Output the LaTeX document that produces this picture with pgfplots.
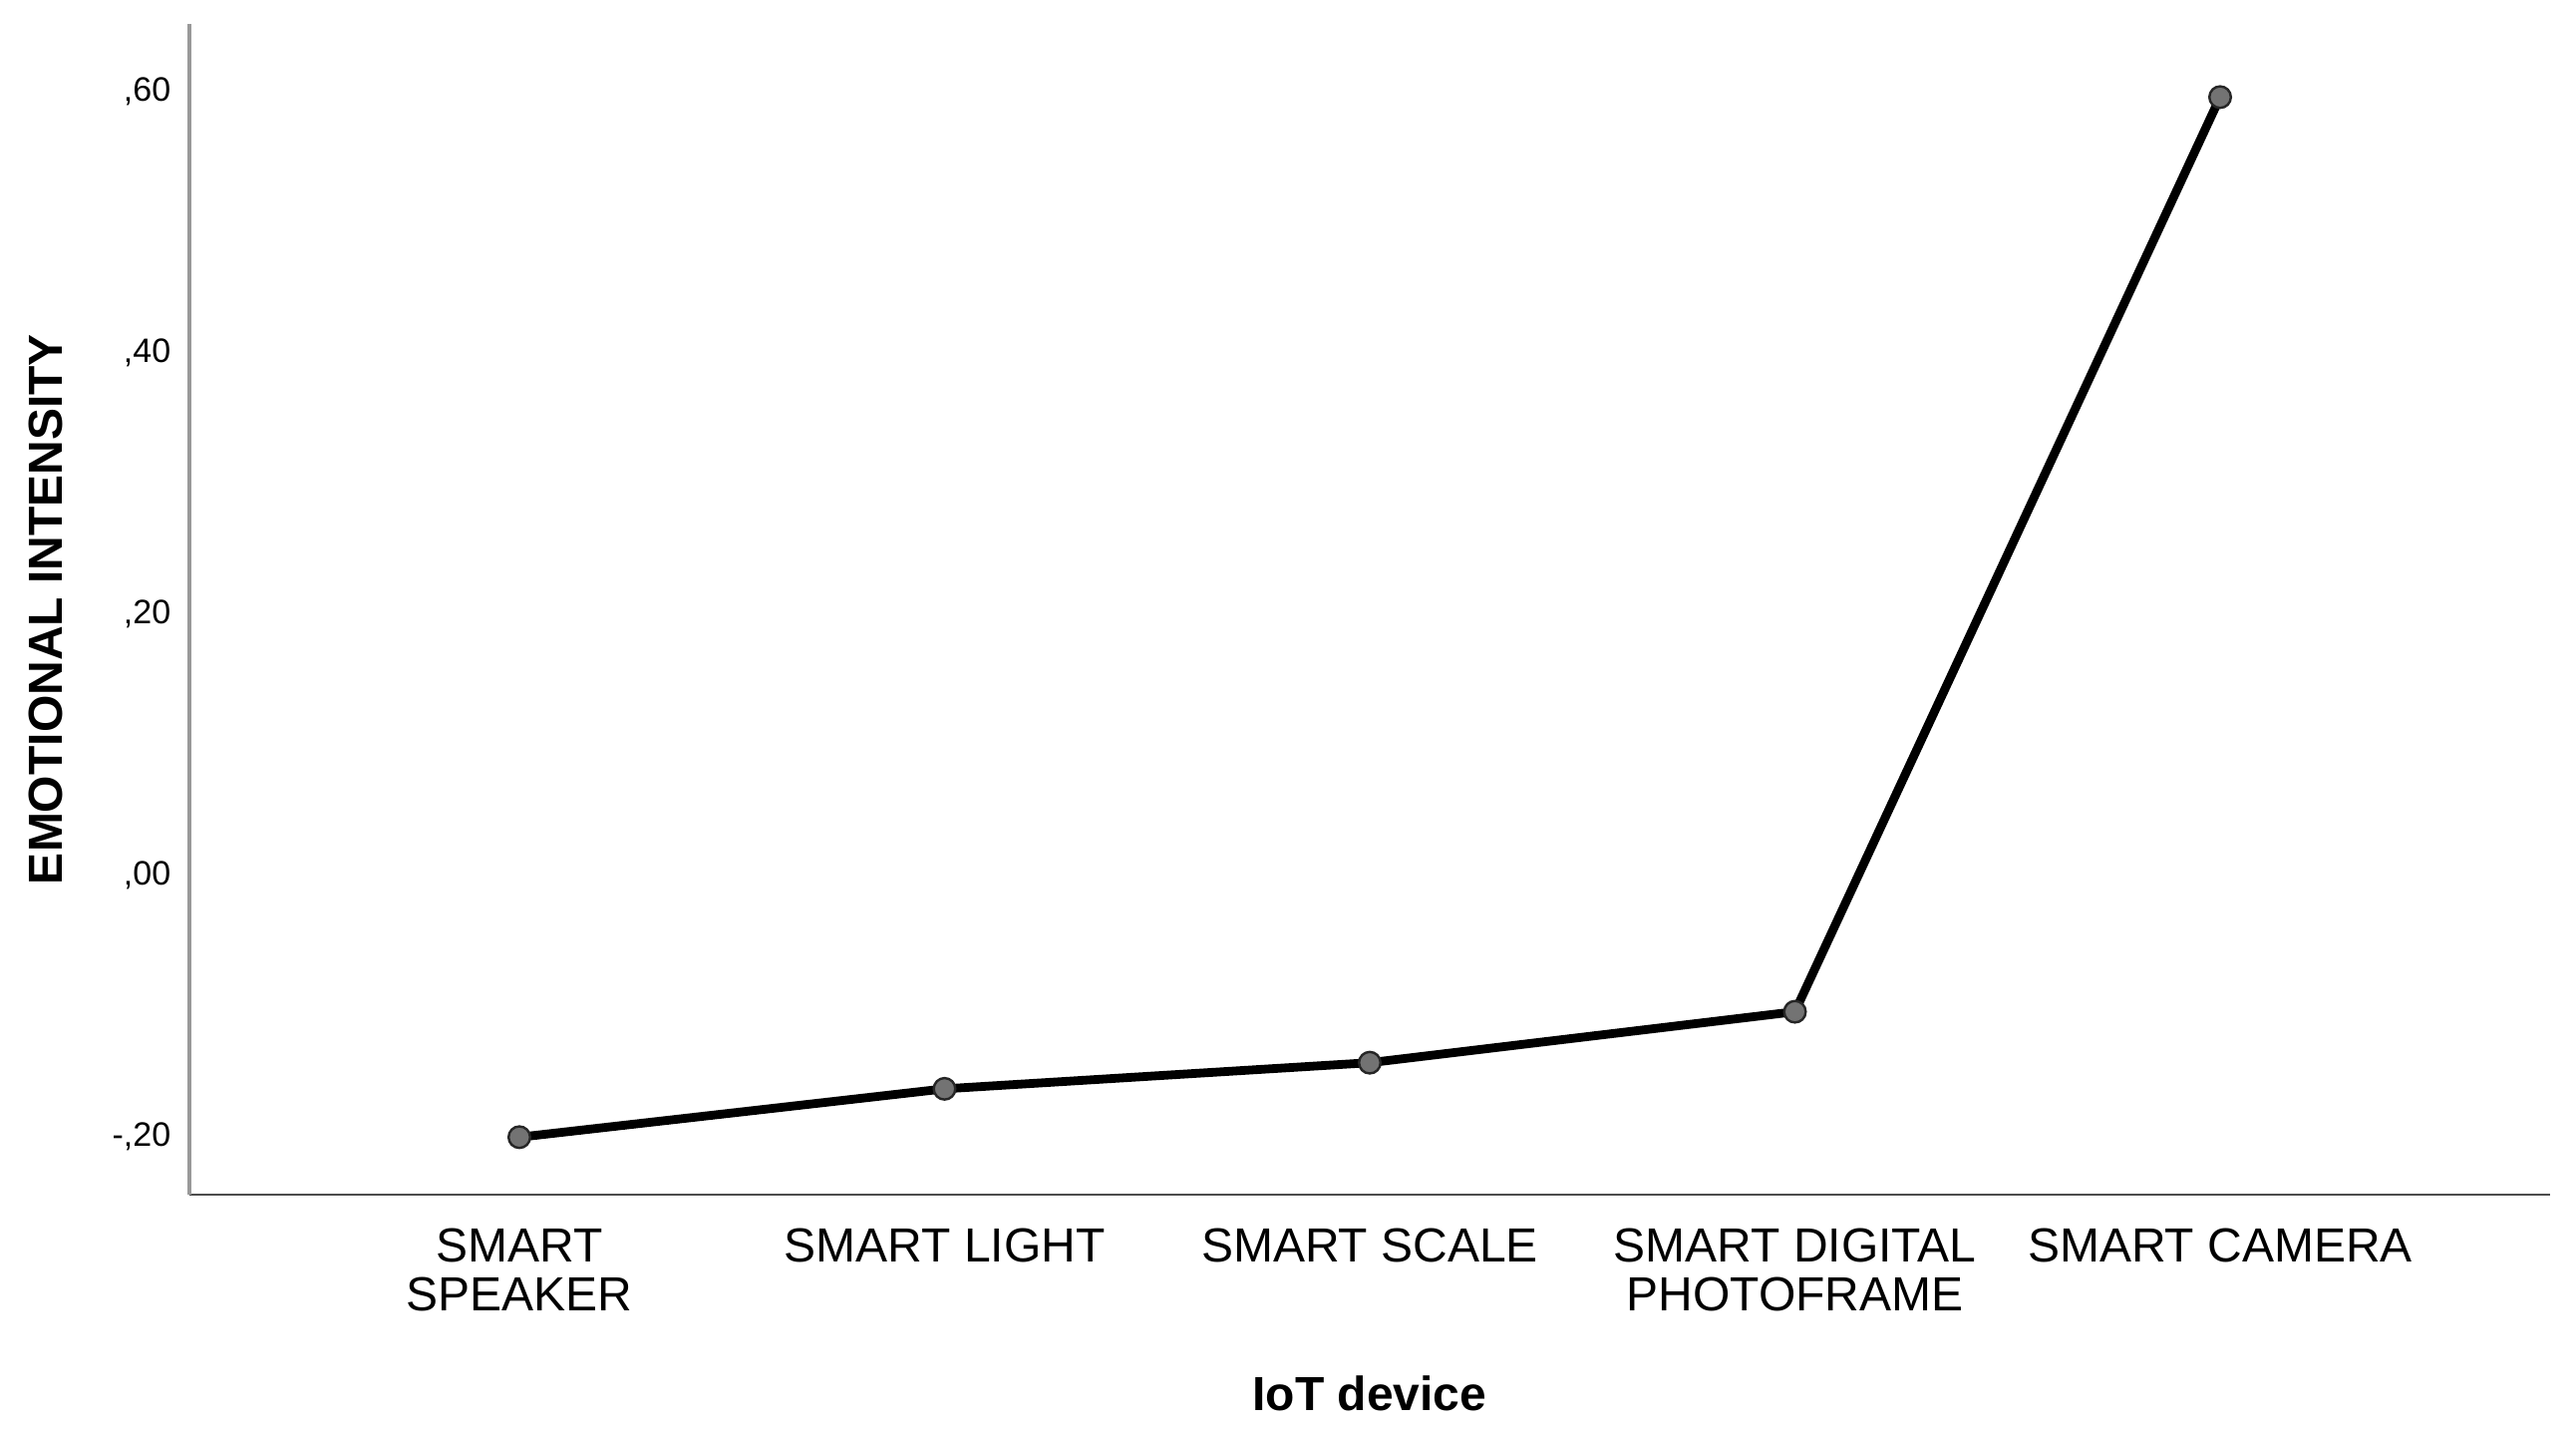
\documentclass[border=0pt]{standalone}
\usepackage{pgfplots}
\pgfplotsset{compat=1.18}
\usepackage{fontspec}
\setmainfont{Liberation Sans}
\begin{document}
\begin{tikzpicture}
\begin{axis}[
  scale only axis,
  width=592pt, height=293.5pt,
  xmin=-0.776, xmax=4.776,
  ymin=-0.247, ymax=0.649,
  axis x line*=bottom, axis y line*=left,
  x axis line style={black!70, line width=0.7pt, -},
  y axis line style={black!40, line width=0.8pt, -},
  xtick={0,1,2,3,4},
  xticklabels={{SMART\\SPEAKER},{SMART LIGHT},{SMART SCALE},{SMART DIGITAL\\PHOTOFRAME},{SMART CAMERA}},
  ytick={-0.2,0,0.2,0.4,0.6},
  yticklabels={{-,20},{,00},{,20},{,40},{,60}},
  major tick length=0pt,
  xticklabel style={font=\fontsize{12}{12.4}\selectfont, align=center, anchor=north, inner sep=0pt, yshift=-8.2pt},
  yticklabel style={font=\fontsize{8.5}{10}\selectfont, anchor=east, inner sep=0pt, xshift=-4.5pt, yshift=-0.8pt},
  xlabel={IoT device},
  ylabel={EMOTIONAL INTENSITY},
  xlabel style={font=\fontsize{12}{14}\selectfont\bfseries, at={(axis description cs:0.5,-0.17)}, anchor=center},
  ylabel style={font=\fontsize{12}{14}\selectfont\bfseries, at={(axis description cs:-0.0608,0.5)}, anchor=center},
  clip=false,
]
\addplot[black, line width=2.2pt, mark=*, mark size=2.7pt,
  mark options={fill=black!55, draw=black!85, line width=0.6pt}]
  coordinates {(0,-0.203) (1,-0.166) (2,-0.146) (3,-0.107) (4,0.593)};
\end{axis}
\path (current axis.south west) ++(-47.5pt,-59.5pt) rectangle ++(646pt,359pt);
\end{tikzpicture}
\end{document}
